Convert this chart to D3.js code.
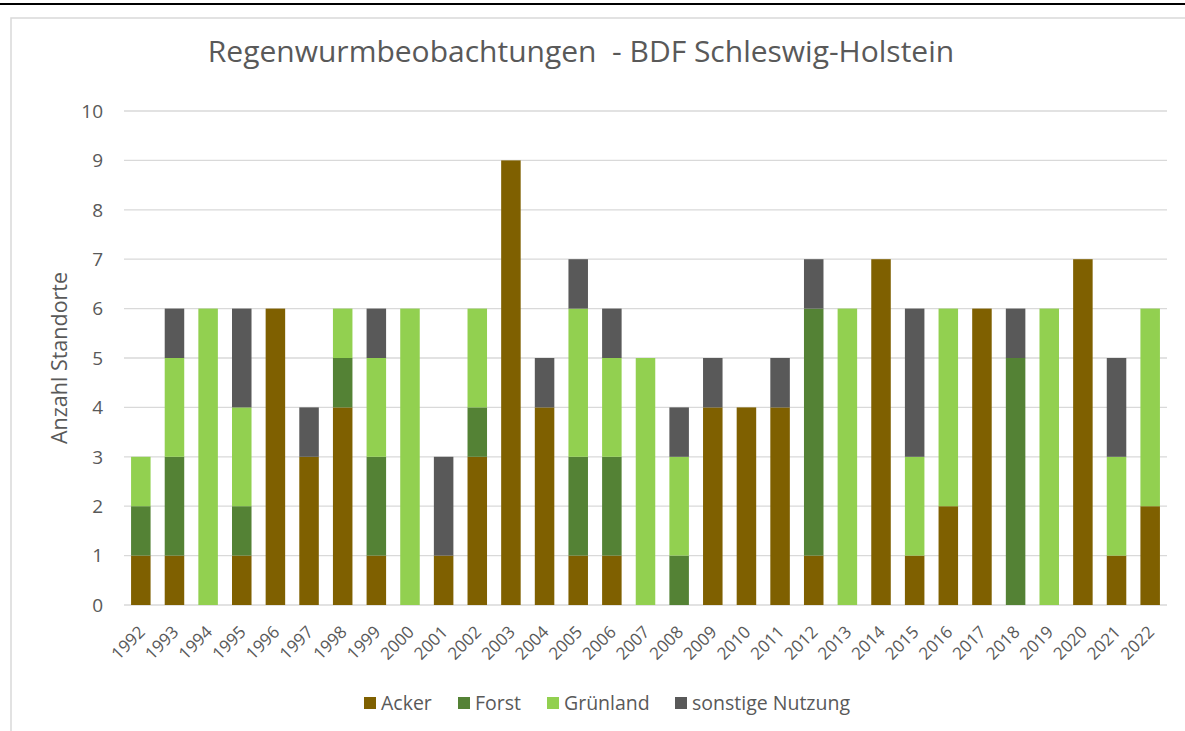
<!DOCTYPE html>
<html>
<head>
<meta charset="utf-8">
<script src="https://cdn.jsdelivr.net/npm/d3@7"></script>
<style>
  body { margin: 0; background: #fff; }
  text { font-family: "Open Sans", "Noto Sans", sans-serif; fill: #595959; }
</style>
</head>
<body>
<svg id="chart"></svg>
<script>
// years and counts per land use
const years = ["1992","1993","1994","1995","1996","1997","1998","1999","2000","2001","2002","2003","2004","2005","2006","2007","2008","2009","2010","2011","2012","2013","2014","2015","2016","2017","2018","2019","2020","2021","2022"];
const acker    = [1,1,0,1,6,3,4,1,0,1,3,9,4,1,1,0,0,4,4,4,1,0,7,1,2,6,0,0,7,1,2];
const forst    = [1,2,0,1,0,0,1,2,0,0,1,0,0,2,2,0,1,0,0,0,5,0,0,0,0,0,5,0,0,0,0];
const gruen    = [1,2,6,2,0,0,1,2,6,0,2,0,0,3,2,5,2,0,0,0,0,6,0,2,4,0,0,6,0,2,4];
const sonstige = [0,1,0,2,0,1,0,1,0,2,0,0,1,1,1,0,1,1,0,1,1,0,0,3,0,0,1,0,0,2,0];
const seriesNames = ["Acker", "Forst", "Grünland", "sonstige Nutzung"];
const seriesColors = ["#7F6000", "#548235", "#92D050", "#595959"];
const yTicks = [0,1,2,3,4,5,6,7,8,9,10];

const W = 1185, H = 731;
const svg = d3.select("#chart").attr("width", W).attr("height", H);

// top black rule and chart frame
svg.append("line")
    .attr("x1", 0).attr("x2", W).attr("y1", 4).attr("y2", 4)
    .attr("stroke", "#000").attr("stroke-width", 2);
svg.append("rect")
    .attr("x", 11).attr("y", 18).attr("width", W + 20).attr("height", H + 20)
    .attr("fill", "none").attr("stroke", "#d9d9d9").attr("stroke-width", 1.5);

const margin = {top: 111, left: 124, right: 18, bottom: 126};
const width = W - margin.left - margin.right,
      height = H - margin.top - margin.bottom;

const g = svg.append("g").attr("transform", "translate(" + margin.left + "," + margin.top + ")");

const x = d3.scaleBand().domain(years).range([0, width]).paddingInner(0.42).paddingOuter(0.21);
const y = d3.scaleLinear().domain([0, 10]).range([height, 0]);

// gridlines
g.selectAll(".grid").data(yTicks).enter().append("line")
    .attr("x1", 0).attr("x2", width)
    .attr("y1", d => y(d)).attr("y2", d => y(d))
    .attr("stroke", "#d9d9d9").attr("stroke-width", 1.3);

// y tick labels
g.selectAll(".ylab").data(yTicks).enter().append("text")
    .attr("x", -21).attr("y", d => y(d))
    .attr("dy", "0.36em")
    .attr("text-anchor", "end")
    .style("font-size", "19px")
    .text(d => d);

// stack the data
const rows = years.map((yr, i) => ({
    year: yr, "Acker": acker[i], "Forst": forst[i], "Grünland": gruen[i], "sonstige Nutzung": sonstige[i]
}));
const stacked = d3.stack().keys(seriesNames)(rows);

g.selectAll(".series").data(stacked).enter().append("g")
    .attr("fill", (d, i) => seriesColors[i])
  .selectAll("rect").data(d => d).enter().append("rect")
    .attr("x", d => x(d.data.year))
    .attr("width", x.bandwidth())
    .attr("y", d => y(d[1]))
    .attr("height", d => y(d[0]) - y(d[1]));

// x axis labels, rotated
g.selectAll(".xlab").data(years).enter().append("text")
    .attr("transform", d => "translate(" + (x(d) + x.bandwidth() / 2 + 1) + "," + (height + 24) + ") rotate(-45)")
    .attr("text-anchor", "end")
    .attr("dy", "0.35em")
    .style("font-size", "17px")
    .text(d => d);

// title
svg.append("text")
    .attr("x", 581).attr("y", 62)
    .attr("text-anchor", "middle")
    .attr("xml:space", "preserve")
    .style("font-size", "30px")
    .text("Regenwurmbeobachtungen  - BDF Schleswig-Holstein");

// y axis title
svg.append("text")
    .attr("transform", "translate(67,358) rotate(-90)")
    .attr("text-anchor", "middle")
    .style("font-size", "21.5px")
    .text("Anzahl Standorte");

// legend
const legendX = [364, 458, 547, 675];
const legend = svg.selectAll(".leg").data(seriesNames).enter().append("g")
    .attr("transform", (d, i) => "translate(" + legendX[i] + ",703)");
legend.append("rect")
    .attr("x", 0).attr("y", -6).attr("width", 12).attr("height", 12)
    .attr("fill", (d, i) => seriesColors[i]);
legend.append("text")
    .attr("x", 17).attr("y", 0).attr("dy", "0.35em")
    .style("font-size", "19.5px")
    .text(d => d);
</script>
</body>
</html>
